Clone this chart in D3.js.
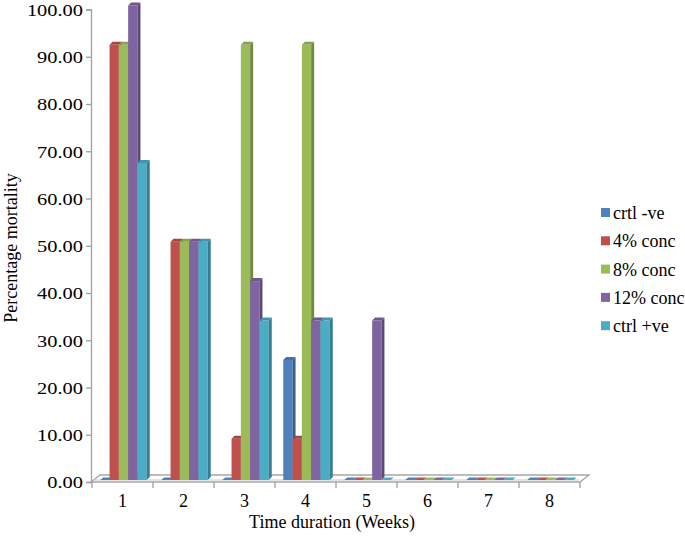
<!DOCTYPE html>
<html>
<head>
<meta charset="utf-8">
<script src="https://cdn.jsdelivr.net/npm/d3@7"></script>
<style>
html,body{margin:0;padding:0;background:#fff;}
svg{display:block;}
text{font-family:"Liberation Serif","Times New Roman",serif;fill:#000;}
</style>
</head>
<body>
<svg id="chart" width="685" height="536"></svg>
<script>
const weeks = ["1","2","3","4","5","6","7","8"];
const seriesNames = ["crtl -ve","4% conc","8% conc","12% conc","ctrl +ve"];
const crtlNeg  = [0, 0, 0, 25, 0, 0, 0, 0];
const conc4    = [91.67, 50, 8.33, 8.33, 0, 0, 0, 0];
const conc8    = [91.67, 50, 91.67, 91.67, 0, 0, 0, 0];
const conc12   = [100, 50, 41.67, 33.33, 33.33, 0, 0, 0];
const ctrlPos  = [66.67, 50, 33.33, 33.33, 0, 0, 0, 0];
const yTicks = [0,10,20,30,40,50,60,70,80,90,100];
const colors = ["#4F81BD","#C0504D","#9BBB59","#8064A2","#4BACC6"];

const allSeries = [crtlNeg, conc4, conc8, conc12, ctrlPos];

const svg = d3.select("#chart");
const x = d3.scaleBand().domain(weeks).range([92, 580]).padding(0);
const xs = d3.scaleBand().domain(seriesNames).range([0, x.bandwidth()]).paddingInner(0).paddingOuter(0.78);
const y = d3.scaleLinear().domain([0, 100]).range([482, 9.5]);

const dep = 3; // 3D depth offset
const floorY = y(0) - 2;

// floor
const fx0 = x.range()[0] - 1, fx1 = x.range()[1];
svg.append("polygon")
  .attr("points", [[fx0, y(0)], [fx1, y(0)], [fx1 + 9, y(0) - 7], [fx0 + 9, y(0) - 7]].map(p => p.join(",")).join(" "))
  .attr("fill", "#fff").attr("stroke", "#a6a6a6").attr("stroke-width", 1.3);
svg.append("line").attr("x1", fx0 + 2).attr("x2", fx1 - 1).attr("y1", floorY).attr("y2", floorY)
  .attr("stroke", "#c8c8c8").attr("stroke-width", 1);

// y axis
const yAxis = d3.axisLeft(y).tickValues(yTicks).tickSize(5).tickFormat(d3.format(".2f"));
const gy = svg.append("g").attr("transform", "translate(91,0)").call(yAxis);
gy.select(".domain").attr("stroke", "#a0a0a0").attr("stroke-width", 1.3);
gy.selectAll(".tick line").attr("stroke", "#a0a0a0").attr("stroke-width", 1.3);
gy.selectAll(".tick text")
  .attr("font-size", "17px")
  .attr("x", 0).attr("dy", "0.34em")
  .attr("transform", "translate(-8,0) scale(1.2,1)")
  .style("font-family", "'Liberation Serif', serif");

// x axis labels
const xAxis = d3.axisBottom(x).tickSize(0).tickPadding(0);
const gx = svg.append("g").attr("transform", `translate(0,${y(0)})`).call(xAxis);
gx.select(".domain").remove();
gx.selectAll(".tick text").attr("font-size", "18px").attr("y", 25).attr("dy", 0)
  .style("font-family", "'Liberation Serif', serif");
const tickXs = weeks.map(w => x(w)).concat([x.range()[1]]);
svg.append("g").selectAll("line").data(tickXs).join("line")
  .attr("x1", d => d).attr("x2", d => d).attr("y1", y(0)).attr("y2", y(0) + 6)
  .attr("stroke", "#a0a0a0").attr("stroke-width", 1.3);

// bars (drawn slightly behind the front plane: small upward projection offset)
function shade(c, k) { return d3.color(c).darker(k).formatHex(); }
const bars = [];
allSeries.forEach((vals, si) => {
  vals.forEach((v, wi) => bars.push({ s: si, w: weeks[wi], v: v }));
});
const gb = svg.append("g");
bars.forEach(b => {
  const bx = x(b.w) + xs(seriesNames[b.s]) + 1;
  const bw = xs.bandwidth();
  const yb = floorY;
  const yt = Math.min(y(b.v) - 4, yb);
  const col = colors[b.s];
  if (b.v <= 0) {
    gb.append("polygon")
      .attr("points", [[bx, yb], [bx + bw, yb], [bx + bw + dep, yb - dep + 0.5], [bx + dep, yb - dep + 0.5]].map(p => p.join(",")).join(" "))
      .attr("fill", col);
    return;
  }
  gb.append("rect").attr("x", bx).attr("y", yt).attr("width", bw).attr("height", yb - yt).attr("fill", col);
  gb.append("polygon")
    .attr("points", [[bx + bw, yt], [bx + bw + dep, yt - dep], [bx + bw + dep, yb - dep], [bx + bw, yb]].map(p => p.join(",")).join(" "))
    .attr("fill", shade(col, 0.9));
  gb.append("polygon")
    .attr("points", [[bx, yt], [bx + bw, yt], [bx + bw + dep, yt - dep], [bx + dep, yt - dep]].map(p => p.join(",")).join(" "))
    .attr("fill", shade(col, 0.4));
});

// axis titles
svg.append("text").attr("x", 332).attr("y", 528).attr("text-anchor", "middle")
  .attr("font-size", "18px").text("Time duration (Weeks)");
svg.append("text").attr("transform", "translate(17,248) rotate(-90)").attr("text-anchor", "middle")
  .attr("font-size", "18px").text("Percentage mortality");

// legend
const lg = svg.append("g").selectAll("g").data(seriesNames).join("g")
  .attr("transform", (d, i) => `translate(601,${213 + i * 28.3})`);
lg.append("rect").attr("x", 0).attr("y", -5).attr("width", 9).attr("height", 9)
  .attr("fill", (d, i) => colors[i]);
lg.append("text").attr("x", 12).attr("y", 0).attr("dy", "0.34em").attr("font-size", "18px").text(d => d);
</script>
</body>
</html>
